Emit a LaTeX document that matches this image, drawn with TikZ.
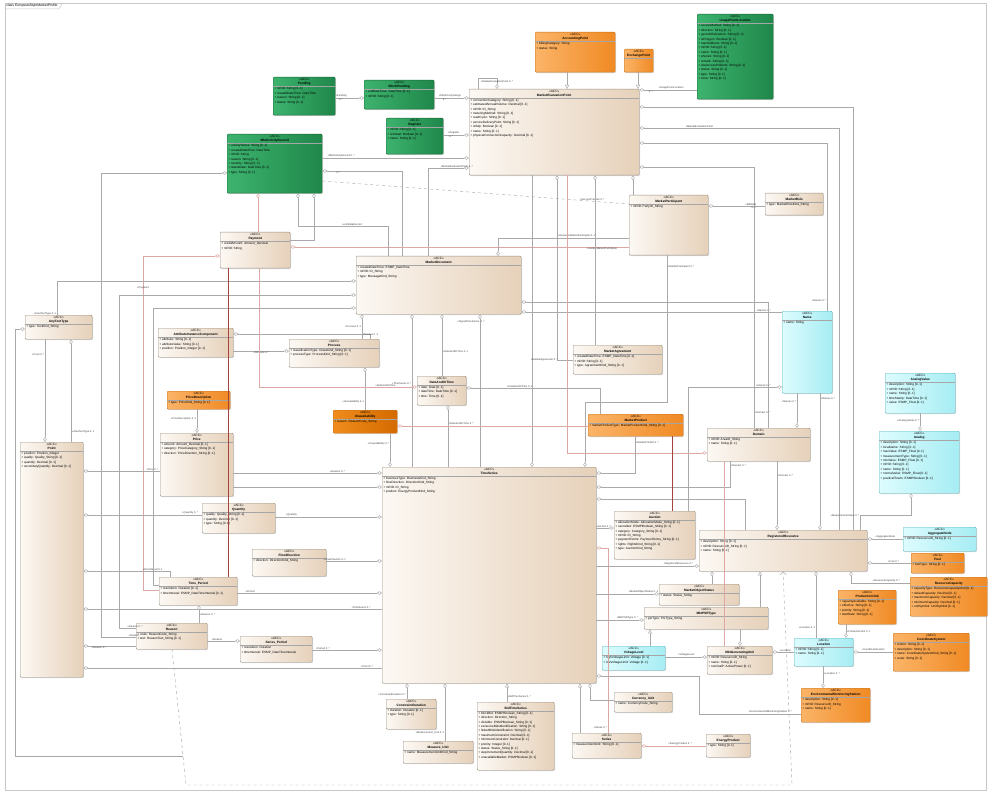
\documentclass[tikz,border=0pt]{standalone}
\usepackage{fontspec}
\setmainfont{Liberation Sans}
\usetikzlibrary{arrows.meta,shadows}

\definecolor{beigeL}{HTML}{FCF8F3}
\definecolor{beigeR}{HTML}{E6D1BA}
\definecolor{beigeB}{HTML}{9C9184}
\definecolor{greenL}{HTML}{3DB36E}
\definecolor{greenR}{HTML}{1F874A}
\definecolor{greenB}{HTML}{1B6A3A}
\definecolor{orangeL}{HTML}{FBB468}
\definecolor{orangeR}{HTML}{F08A24}
\definecolor{orangeB}{HTML}{C5741E}
\definecolor{darkoL}{HTML}{EF8C1C}
\definecolor{darkoR}{HTML}{D46A00}
\definecolor{cyanL}{HTML}{DDFCFE}
\definecolor{cyanR}{HTML}{A6EDF3}
\definecolor{cyanB}{HTML}{58B6C0}
\definecolor{lineG}{HTML}{A9A9A9}
\definecolor{linePk}{HTML}{DDA7A3}
\definecolor{lineRd}{HTML}{A5443E}

\tikzset{
  cls/.style={anchor=north west, rounded corners=1pt, inner sep=0pt, line width=0.4pt,
    drop shadow={shadow xshift=0.9pt, shadow yshift=-0.9pt, opacity=0.25}},
  beigebox/.style={left color=beigeL, right color=beigeR, draw=beigeB},
  greenbox/.style={left color=greenL, right color=greenR, draw=greenB},
  orangebox/.style={left color=orangeL, right color=orangeR, draw=orangeB},
  darkbox/.style={left color=darkoL, right color=darkoR, draw=orangeB},
  cyanbox/.style={left color=cyanL, right color=cyanR, draw=cyanB},
  clshead/.style={anchor=north, align=center, inner sep=1pt, font=\fontsize{3.2}{4}\selectfont},
  clsattr/.style={anchor=north west, align=left, inner sep=1.2pt, font=\fontsize{3.1}{4.4}\selectfont},
  clsrule/.style={draw=black!35, line width=0.3pt},
  con/.style={draw=lineG, line width=0.45pt},
  pk/.style={draw=linePk, line width=0.5pt},
  rd/.style={draw=lineRd, line width=0.6pt},
  dep/.style={draw=lineG, line width=0.45pt, dashed},
  ad/.style={-{Diamond[fill=white,length=5pt,width=3.4pt]}},
  sd/.style={{Diamond[fill=white,length=5pt,width=3.4pt]}-},
  tri/.style={-{Triangle[open,length=4pt,width=4pt]}},
  lbl/.style={inner sep=0.6pt, text=black!75, font=\fontsize{2.6}{3}\selectfont},
  frame/.style={draw=black!22, line width=0.5pt}
}

\newcommand{\umlclass}[8]{%
  \node[cls,#6,minimum width=#4pt,minimum height=#5pt] (#1) at (#2,#3) {};
  \node[clshead] (#1h) at (#1.north) {«ACC»\\\textbf{#7}};
  \draw[clsrule] (#1h.south -| #1.west) -- (#1h.south -| #1.east);
  \node[clsattr] (#1a) at (#1h.south -| #1.west) {#8};
}

\begin{document}
\begin{tikzpicture}[x=1pt,y=-1pt]
\useasboundingbox (0,0) rectangle (990,794);
\draw[frame] (5,3) rectangle (986,790);
\node[anchor=north west, inner sep=1.2pt, font=\fontsize{3.4}{4}\selectfont] (ftitle) at (5,3) {class EuropeanStyleMarketProfile};
\draw[frame] (ftitle.south west) -- (ftitle.south east) -- ([xshift=4pt]ftitle.north east);

\umlclass{pending}{273}{77}{62}{38}{greenbox}{Pending}{+ mRID: String [0..1]\\+ createdDateTime: DateTime\\+ reason: String [0..1]\\+ status: String [0..1]}
\umlclass{blockPend}{364}{80}{70}{29}{greenbox}{BlockPending}{+ endDateTime: DateTime [0..1]\\+ mRID: String [0..1]}
\umlclass{register}{386}{118}{57}{36}{greenbox}{Register}{+ mRID: String [0..1]\\+ isVirtual: Boolean [0..1]\\+ name: String [0..1]}
\umlclass{mktRec}{227}{134}{95}{59}{greenbox}{MktActivityRecord}{+ activityStatus: String [0..1]\\+ createdDateTime: DateTime\\+ mRID: String\\+ reason: String [0..1]\\+ severity: String [0..1]\\+ statusDate: DateTime [0..1]\\+ type: String [0..1]}
\umlclass{usageLoc}{697}{14}{76}{85}{greenbox}{UsagePointLocation}{+ accessMethod: String [0..1]\\+ direction: String [0..1]\\+ geoInfoReference: String [0..1]\\+ isPolygon: Boolean [0..1]\\+ mainAddress: String [0..1]\\+ mRID: String [0..1]\\+ name: String [0..1]\\+ phone1: String [0..1]\\+ remark: String [0..1]\\+ siteAccessProblem: String [0..1]\\+ status: String [0..1]\\+ type: String [0..1]\\+ zone: String [0..1]}
\umlclass{accPt}{535}{32}{80}{40}{orangebox}{AccountingPoint}{+ billingCategory: String\\+ status: String}
\umlclass{exchPt}{624}{49}{29}{23}{orangebox}{ExchangePoint}{}
\umlclass{mep}{469}{89}{170}{86}{beigebox}{MarketEvaluationPoint}{+ connectionCategory: String [0..1]\\+ estimatedAnnualVolume: Decimal [0..1]\\+ mRID: ID\_String\\+ meteringMethod: String [0..1]\\+ readCycle: String [0..1]\\+ serviceDeliveryPoint: String [0..1]\\+ isSdp: Boolean [0..1]\\+ name: String [0..1]\\+ physicalConnectionCapacity: Decimal [0..1]}
\umlclass{mktPart}{629}{195}{79}{60}{beigebox}{MarketParticipant}{+ mRID: PartyID\_String}
\umlclass{mktRole}{765}{193}{58}{22}{beigebox}{MarketRole}{+ type: MarketRoleKind\_String}
\umlclass{payment}{220}{232}{70}{36}{beigebox}{Payment}{+ creditAmount: Amount\_Decimal\\+ mRID: String}
\umlclass{mktDoc}{356}{256}{165}{58}{beigebox}{MarketDocument}{+ createdDateTime: ESMP\_DateTime\\+ mRID: ID\_String\\+ type: MessageKind\_String}
\umlclass{areaType}{25}{315}{67}{24}{beigebox}{AnyTextType}{+ type: TextKind\_String}
\umlclass{attrComp}{158}{328}{75}{29}{beigebox}{AttributeInstanceComponent}{+ attribute: String [0..1]\\+ attributeValue: String [0..1]\\+ position: Position\_Integer [0..1]}
\umlclass{process}{289}{339}{90}{28}{beigebox}{Process}{+ classificationType: ClassKind\_String [0..1]\\+ processType: ProcessKind\_String [0..1]}
\umlclass{mktAgree}{573}{345}{89}{29}{beigebox}{MarketAgreement}{+ createdDateTime: ESMP\_DateTime [0..1]\\+ mRID: String [0..1]\\+ type: AgreementKind\_String [0..1]}
\umlclass{dateTime}{417}{376}{49}{29}{beigebox}{DateAndOrTime}{+ date: Date [0..1]\\+ dateTime: DateTime [0..1]\\+ time: Time [0..1]}
\umlclass{priceDesc}{167}{391}{63}{18}{orangebox}{PriceDescription}{+ type: PriceKind\_String [0..1]}
\umlclass{unavail}{333}{410}{64}{23}{darkbox}{Unavailability}{+ reason: ReasonCode\_String}
\umlclass{mktProd}{588}{414}{95}{22}{orangebox}{MarketProduct}{+ marketProductType: MarketProductKind\_String [0..1]}
\umlclass{domain}{707}{428}{103}{33}{beigebox}{Domain}{+ mRID: AreaID\_String\\+ name: String [0..1]}
\umlclass{price}{160}{433}{73}{63}{beigebox}{Price}{+ amount: Amount\_Decimal [0..1]\\+ category: PriceCategory\_String [0..1]\\+ direction: PriceDirection\_String [0..1]}
\umlclass{pnt}{20}{442}{63}{235}{beigebox}{Point}{+ position: Position\_Integer\\+ quality: Quality\_String [0..1]\\+ quantity: Decimal [0..1]\\+ secondaryQuantity: Decimal [0..1]}
\umlclass{timeSeries}{382}{467}{214}{216}{beigebox}{TimeSeries}{+ businessType: BusinessKind\_String\\+ flowDirection: DirectionKind\_String\\+ mRID: ID\_String\\+ product: EnergyProductKind\_String}
\umlclass{quantity}{202}{503}{73}{30}{beigebox}{Quantity}{+ quality: Quality\_String [0..1]\\+ quantity: Decimal [0..1]\\+ type: String [0..1]}
\umlclass{auction}{614}{511}{81}{48}{beigebox}{Auction}{+ allocationMode: AllocationMode\_String [0..1]\\+ cancelled: ESMPBoolean\_String [0..1]\\+ category: Category\_String [0..1]\\+ mRID: ID\_String\\+ paymentTerms: PaymentTerms\_String [0..1]\\+ rights: RightsKind\_String [0..1]\\+ type: AuctionKind\_String}
\umlclass{regRes}{699}{530}{168}{41}{beigebox}{RegisteredResource}{+ description: String [0..1]\\+ mRID: ResourceID\_String [0..1]\\+ name: String [0..1]}
\umlclass{flowDir}{252}{549}{74}{27}{beigebox}{FlowDirection}{+ direction: DirectionKind\_String}
\umlclass{timePeriod}{159}{577}{78}{28}{beigebox}{Time\_Period}{+ resolution: Duration [0..1]\\+ timeInterval: ESMP\_DateTimeInterval [0..1]}
\umlclass{mktObjStatus}{659}{584}{80}{21}{beigebox}{MarketObjectStatus}{+ status: Status\_String}
\umlclass{psrType}{644}{607}{124}{22}{beigebox}{MktPSRType}{+ psrType: PsrType\_String}
\umlclass{reason}{136}{623}{71}{26}{beigebox}{Reason}{+ code: ReasonCode\_String\\+ text: ReasonText\_String [0..1]}
\umlclass{seriesPeriod}{240}{636}{72}{26}{beigebox}{Series\_Period}{+ resolution: Duration\\+ timeInterval: ESMP\_DateTimeInterval}
\umlclass{genUnit}{707}{646}{65}{28}{beigebox}{MktGeneratingUnit}{+ mRID: ResourceID\_String\\+ name: String [0..1]\\+ nominalP: ActivePower [0..1]}
\umlclass{voltLevel}{602}{646}{63}{24}{cyanbox}{VoltageLevel}{+ highVoltageLimit: Voltage [0..1]\\+ lowVoltageLimit: Voltage [0..1]}
\umlclass{currency}{614}{692}{58}{20}{beigebox}{Currency\_Unit}{+ name: CurrencyCode\_String}
\umlclass{constrDur}{386}{699}{50}{30}{beigebox}{ConstraintDuration}{+ duration: Duration [0..1]\\+ type: String [0..1]}
\umlclass{bidTS}{477}{702}{77}{68}{beigebox}{BidTimeSeries}{+ blockBid: ESMPBoolean\_String [0..1]\\+ direction: Direction\_String\\+ divisible: ESMPBoolean\_String [0..1]\\+ exclusiveBidsIdentification: String [0..1]\\+ linkedBidsIdentification: String [0..1]\\+ maximumConstraint: Decimal [0..1]\\+ minimumConstraint: Decimal [0..1]\\+ priority: Integer [0..1]\\+ status: Status\_String [0..1]\\+ stepIncrementQuantity: Decimal [0..1]\\+ unavailableMarket: ESMPBoolean [0..1]}
\umlclass{series}{572}{733}{69}{25}{beigebox}{Series}{+ measurementUnit: String [0..1]}
\umlclass{energyProd}{706}{734}{44}{23}{beigebox}{EnergyProduct}{+ type: String [0..1]}
\umlclass{measureUnit}{403}{741}{70}{22}{beigebox}{Measure\_Unit}{+ name: MeasurementUnitKind\_String}
\umlclass{nameCls}{782}{311}{50}{82}{cyanbox}{Name}{+ name: String}
\umlclass{analogVal}{885}{373}{70}{40}{cyanbox}{AnalogValue}{+ description: String [0..1]\\+ mRID: String [0..1]\\+ name: String [0..1]\\+ timeStamp: DateTime [0..1]\\+ value: ESMP\_Float [0..1]}
\umlclass{analog}{879}{431}{80}{62}{cyanbox}{Analog}{+ description: String [0..1]\\+ localName: String [0..1]\\+ maxValue: ESMP\_Float [0..1]\\+ measurementType: String [0..1]\\+ minValue: ESMP\_Float [0..1]\\+ mRID: String [0..1]\\+ name: String [0..1]\\+ normalValue: ESMP\_Float [0..1]\\+ positiveFlowIn: ESMPBoolean [0..1]}
\umlclass{aggNode}{903}{527}{73}{24}{cyanbox}{AggregateNode}{+ mRID: ResourceID\_String [0..1]}
\umlclass{fuel}{911}{553}{53}{20}{orangebox}{Fuel}{+ fuelType: String [0..1]}
\umlclass{resCap}{910}{577}{77}{39}{orangebox}{ResourceCapacity}{+ capacityType: ResourceCapacityKind [0..1]\\+ defaultCapacity: Decimal [0..1]\\+ maximumCapacity: Decimal [0..1]\\+ minimumCapacity: Decimal [0..1]\\+ unitSymbol: UnitSymbol [0..1]}
\umlclass{prodUnit}{838}{590}{58}{34}{orangebox}{ProductionUnit}{+ capacityAvailable: String [0..1]\\+ effective: String [0..1]\\+ priority: String [0..1]\\+ startDate: String [0..1]}
\umlclass{coordSys}{893}{633}{76}{38}{orangebox}{CoordinateSystem}{+ crsUrn: String [0..1]\\+ description: String [0..1]\\+ name: CoordinateSystemKind\_String [0..1]\\+ scale: String [0..1]}
\umlclass{location}{794}{638}{59}{28}{cyanbox}{Location}{+ mRID: String [0..1]\\+ name: String [0..1]}
\umlclass{envStation}{801}{688}{69}{34}{orangebox}{EnvironmentalMonitoringStation}{+ description: String [0..1]\\+ mRID: ResourceID\_String\\+ name: String [0..1]}

\coordinate (dj) at (183,756);

\draw[con,ad] (pending.east |- 0,98) -- (blockPend.west |- 0,98) node[lbl,pos=.2,above] (l1) {+Pending} node[lbl,pos=.2,below] (l1b) {0..*};
\draw[con,ad] (blockPend.east |- 0,98) -- (mep.west |- 0,98) node[lbl,pos=.45,above] (l2) {+MktActivityDesign} node[lbl,pos=.3,below] (l2b) {0..*};
\draw[con,ad] (register.east |- 0,135) -- (mep.west |- 0,135) node[lbl,pos=.4,above] (l3) {+Register} node[lbl,pos=.3,below] (l3b) {0..*};
\draw[con,ad] (mktRec.east |- 0,158) -- (mep.west |- 0,158) node[lbl,pos=.03,above right] (l4) {+MktActivityRecord 0..*};
\draw[con,ad] (mktDoc.north -| 428,0) |- (mep.west |- 0,168) node[lbl,pos=.85,above] (l5) {+MarketEvaluationPoint 0..*};
\draw[con,sd] (mktRec.east |- 0,171) -| (mktDoc.north -| 402,0) node[lbl,pos=.1,below] (l6) {0..*};
\draw[con,tri] (accPt.south -| 567,0) -- (mep.north -| 567,0);
\draw[con,tri] (exchPt.south -| 638,0) -- (mep.north -| 638,0);
\draw[con,ad] (usageLoc.west |- 0,90) -- (mep.east |- 0,90) node[lbl,pos=.45,above] (l9) {+UsagePointLocation} node[lbl,pos=.8,below] (l9b) {0..*};
\draw[con,ad] (mep.north -| 478,0) |- (497,78) -- (mep.north -| 497,0) node[lbl,pos=.5,above] (l10) {+MarketEvaluationPoint 0..*};
\draw[con,sd] (mep.east |- 0,107) -| (regRes.north -| 853,0);
\draw[con,sd] (mep.east |- 0,128) -| (regRes.north -| 839,0) node[lbl,pos=.15,above] (l12) {+MarketEvaluationPoint};
\draw[con,sd] (mep.east |- 0,143) -| (nameCls.north -| 827,0) node[lbl,pos=.97,left] (l13) {+Names 0..*};
\draw[con,ad] (nameCls.south -| 820,0) -- (regRes.north -| 820,0) node[lbl,pos=.04,right] (l13b) {+Names 0..*};
\draw[con,sd] (mep.east |- 0,167) -| (domain.north -| 754,0) node[lbl,pos=.97,right] (l14) {+Domain 0..*};
\draw[con,sd] (mktDoc.east |- 0,312) -- (nameCls.west |- 0,312) node[lbl,pos=.93,above] (l15) {+Names 0..*};
\draw[con,sd] (mktDoc.east |- 0,302) -| (domain.north -| 768,0);
\draw[con,sd] (nameCls.west |- 0,387) -| (auction.north -| 688,0) node[lbl,pos=.1,above] (l17) {+Names 0..*};
\draw[con,ad] (mktRole.west |- 0,206) -- (mktPart.east |- 0,206) node[lbl,pos=.25,above] (l18) {+MktRole} node[lbl,pos=.2,below] (l18b) {0..1};
\draw[con,sd] (timeSeries.north -| 585,0) |- (667,402) -- (mktPart.south -| 667,0) node[lbl,pos=.92,right] (l19) {+MarketParticipant 0..*};
\draw[dep] (mktRec.east |- 0,181) -- (mktPart.west |- 0,204) node[lbl,pos=.88,above] (l20) {+ServiceProvider 0..*};
\draw[pk,sd] (payment.east |- 0,247) -- (mktPart.west |- 0,247) node[lbl,pos=.92,below] (l21) {+SenderMarketParticipant};
\draw[con,sd] (mktDoc.north -| 498,0) |- (mktPart.west |- 0,238) node[lbl,pos=.8,above] (l22) {+ReceiverMarketParticipant 0..1};
\draw[con,ad] (mep.south -| 532,0) -- (timeSeries.north -| 532,0);
\draw[con,sd] (mep.south -| 557,0) |- (mktAgree.west |- 0,360) node[lbl,pos=.55,left] (l23b) {+MarketAgreement 0..*};
\draw[pk,ad] (mep.south -| 567,0) |- (domain.west |- 0,453);
\draw[con,sd] (mep.south -| 595,0) -- (mktAgree.north -| 595,0);
\draw[con,sd] (mep.south -| 633,0) -- (mktPart.north -| 633,0);
\draw[con,sd] (mktRec.west |- 0,173) -- (101,173) |- (reason.west |- 0,637) node[lbl,pos=.97,above] (l27) {+Reason};
\draw[pk,sd] (payment.west |- 0,256) -- (143,256) |- (timePeriod.west |- 0,590) node[lbl,pos=.05,above] (l28) {+Payment};
\draw[con,ad] (areaType.north -| 57,0) |- (mktDoc.west |- 0,281) node[lbl,pos=.02,left] (l30) {+AreaTextType 0..1};
\draw[con,ad] (areaType.south -| 45,0) -- (pnt.north -| 45,0) node[lbl,pos=.15,left] (l31) {+Point 0..*};
\draw[con,ad] (pnt.north -| 71,0) -- (areaType.south -| 71,0) node[lbl,pos=.1,right] (l32) {+AreaTextType 0..1};
\draw[con,sd] (areaType.west |- 0,329) -- (15,329) |- (dj);
\draw[dep,-{Straight Barb[length=3pt]}] (reason.south -| 172,0) -- (186,785) -- (792,785) -- (regRes.south -| 783,0);
\draw[con,sd] (pnt.east |- 0,471) -- (price.west |- 0,471) node[lbl,pos=.9,above] (l35a) {+Price 0..*};
\draw[con,sd] (pnt.east |- 0,515) -- (quantity.west |- 0,515) node[lbl,pos=.9,above] (l35b) {+Quantity 0..*};
\draw[con,sd] (pnt.east |- 0,571) -| (timePeriod.north -| 170,0) node[lbl,pos=.4,above] (l35c) {+timeInterval 0..1};
\draw[con,sd] (pnt.east |- 0,609) -- (timeSeries.west |- 0,609) node[lbl,pos=.93,above] (l35d) {+TimeSeries 0..*};
\draw[con,sd] (pnt.east |- 0,646) -- (reason.west |- 0,646) node[lbl,pos=.3,below] (l35e) {+Reason 0..*};
\draw[con,sd] (pnt.east |- 0,668) -- (timeSeries.west |- 0,668) node[lbl,pos=.95,above] (l35f) {+Point 0..*};
\draw[con,ad] (seriesPeriod.east |- 0,650) -- (timeSeries.west |- 0,650) node[lbl,pos=.15,above] (l36) {+Period 0..*};
\draw[con,ad] (flowDir.east |- 0,561) -- (timeSeries.west |- 0,561) node[lbl,pos=.15,above] (l37) {+FlowDirection 0..1};
\draw[con,ad] (quantity.east |- 0,517) -- (timeSeries.west |- 0,517) node[lbl,pos=.15,above] (l38) {+Quantity};
\draw[con,ad] (price.east |- 0,473) -- (timeSeries.west |- 0,473) node[lbl,pos=.7,above] (l39) {+Reason 0..*};
\draw[con,ad] (price.east |- 0,487) -- (timeSeries.west |- 0,487);
\draw[con,ad] (attrComp.east |- 0,351) -- (process.west |- 0,351) node[lbl,pos=.5,below] (l40) {+Attribute 0..*};
\draw[con,sd] (attrComp.east |- 0,334) -| (process.north -| 370,0) node[lbl,pos=.7,above] (l40b) {+Process 0..1};
\draw[con,ad] (unavail.north -| 365,0) -- (process.south -| 365,0) node[lbl,pos=.2,left] (l41) {+Unavailability 0..1};
\draw[con,ad] (unavail.south -| 390,0) -- (timeSeries.north -| 390,0) node[lbl,pos=.3,left] (l42) {+Unavailability 0..*};
\draw[con,sd] (mktDoc.south -| 412,0) -- (timeSeries.north -| 412,0) node[lbl,pos=.45,left] (l43a) {+TimeSeries 0..*};
\draw[con,sd] (mktDoc.south -| 480,0) -- (timeSeries.north -| 480,0) node[lbl,pos=.05,right] (l43b) {1..*} node[lbl,pos=.05,left] (l43bb) {+SignalTimeSeries};
\draw[con,sd] (mktDoc.south -| 362,0) -- (process.north -| 362,0) node[lbl,pos=.5,left] (l43c) {+Process 0..1};
\draw[con,sd] (mktDoc.south -| 442,0) -- (dateTime.north -| 442,0) node[lbl,pos=.6,right] (l43e) {+DateAndOrTime 0..1};
\draw[pk,ad] (payment.south -| 259,0) |- (dateTime.west |- 0,387) node[lbl,pos=.9,above] (l43f) {+DateAndOrTime};
\draw[con,ad] (timeSeries.north -| 448,0) -- (dateTime.south -| 448,0) node[lbl,pos=.7,right] (l43h) {+DateAndOrTime 0..*};
\draw[con,sd] (dateTime.east |- 0,388) -| (mktProd.north -| 600,0) node[lbl,pos=.2,above] (l43g) {+DateAndOrTime 0..1};
\draw[con,sd] (mktDoc.west |- 0,295) -- (119,295) |- (reason.west |- 0,628) node[lbl,pos=.97,above] (l44a) {+Reason 0..*};
\draw[con,sd] (mktDoc.west |- 0,308) -- (153,308) |- (timePeriod.west |- 0,585);
\draw[con,ad] (priceDesc.south -| 197,0) -- (price.north -| 197,0) node[lbl,pos=.4,left] (l47) {+PriceDescription 0..1};
\draw[con,ad] (timePeriod.east |- 0,593) -- (timeSeries.west |- 0,593) node[lbl,pos=.05,above right] (l51) {+Period};
\draw[con,ad] (reason.east |- 0,641) -- (seriesPeriod.west |- 0,641) node[lbl,pos=.3,above] (l52) {+Reason};
\draw[con,sd] (timePeriod.south -| 199,0) -- (reason.north -| 199,0) node[lbl,pos=.5,right] (l53) {+Reason 0..*};
\draw[con,sd] (timeSeries.east |- 0,473) -| (mktProd.south -| 635,0) node[lbl,pos=.92,right] (l56a) {+MarketProduct 0..*};
\draw[con,sd] (timeSeries.east |- 0,487) -| (domain.south -| 730,0) node[lbl,pos=.92,right] (l56b) {+Domain 0..*};
\draw[con,sd] (timeSeries.east |- 0,499) -| (regRes.north -| 745,0);
\draw[con,ad] (timeSeries.east |- 0,528) -- (auction.west |- 0,528) node[lbl,pos=.4,above] (l56d) {+Auction 0..*};
\draw[pk,sd] (timeSeries.east |- 0,548) -- (608,548) -- (series.north -| 608,0) node[lbl,pos=.97,left] (l56e) {+Series 0..*};
\draw[con,ad] (timeSeries.east |- 0,566) -- (regRes.west |- 0,566) node[lbl,pos=.8,above] (l56f) {+RegisteredResource 0..*};
\draw[con,ad] (timeSeries.east |- 0,594) -- (mktObjStatus.west |- 0,594) node[lbl,pos=.75,above] (l56g) {+MarketObjectStatus 0..1};
\draw[con,ad] (timeSeries.east |- 0,620) -- (psrType.west |- 0,620) node[lbl,pos=.65,above] (l56h) {+MktPSRType 0..*};
\draw[con,sd] (timeSeries.east |- 0,676) -- (699,676) |- (envStation.west |- 0,714) node[lbl,pos=.85,above] (l56i) {+EnvironmentalMonitoringStation 0..*};
\draw[con,ad] (voltLevel.east |- 0,657) -- (genUnit.west |- 0,657) node[lbl,pos=.5,above] (l57) {+VoltageLevel};
\draw[con,tri] (voltLevel.north -| 650,0) -- (psrType.south -| 650,0);
\draw[con,sd] (genUnit.north -| 740,0) -- (psrType.south -| 740,0);
\draw[con,ad] (mktObjStatus.north -| 712,0) -- (regRes.south -| 712,0);
\draw[pk,sd] (series.east |- 0,746) -- (energyProd.west |- 0,746) node[lbl,pos=.6,above] (l58) {+EnergyProduct 0..*};
\draw[con,tri] (series.north -| 580,0) -- (timeSeries.south -| 580,0);
\draw[con,tri] (bidTS.north -| 507,0) -- (timeSeries.south -| 507,0) node[lbl,pos=.3,right] (l59a) {+BidTimeSeries 0..*};
\draw[con,sd] (timeSeries.south -| 590,0) |- (currency.west |- 0,700);
\draw[con,sd] (timeSeries.south -| 407,0) -- (constrDur.north -| 407,0) node[lbl,pos=.7,left] (l59) {+ConstraintDuration 0..*};
\draw[con,sd] (timeSeries.south -| 445,0) -- (measureUnit.north -| 445,0) node[lbl,pos=.85,left] (l60) {+Measurement\_Unit 0..1};
\draw[con,ad] (analogVal.south -| 920,0) -- (analog.north -| 920,0) node[lbl,pos=.4,left] (l61) {+AnalogValues 0..*};
\draw[con,sd] (analog.south -| 911,0) |- (860,515) -- (regRes.north -| 860,0) node[lbl,pos=.05,left] (l62) {+MeasurementValue 0..*};
\draw[con,ad] (aggNode.west |- 0,539) -- (regRes.east |- 0,539) node[lbl,pos=.5,above] (l63) {+AggregateNode};
\draw[con,ad] (fuel.west |- 0,563) -- (regRes.east |- 0,563) node[lbl,pos=.4,above] (l64) {+Fuel 0..*};
\draw[con,sd] (regRes.south -| 851,0) |- (resCap.west |- 0,583) node[lbl,pos=.8,above] (l65) {+ResourceCapacity 0..*};
\draw[con,tri] (psrType.north -| 760,0) -- (regRes.south -| 760,0);
\draw[con,sd] (regRes.south -| 816,0) -- (location.north -| 816,0) node[lbl,pos=.85,left] (l66) {+Location 0..1};
\draw[con,ad] (prodUnit.south -| 846,0) -- (location.north -| 846,0) node[lbl,pos=.5,right] (l67) {+ProductionUnit 0..1};
\draw[con,ad] (coordSys.west |- 0,652) -- (location.east |- 0,652) node[lbl,pos=.5,above] (l68) {+CoordinateSystem};
\draw[con,ad] (location.west |- 0,652) -- (genUnit.east |- 0,652) node[lbl,pos=.4,above] (l69) {+Location};
\draw[con,ad] (location.south -| 823,0) -- (envStation.north -| 823,0) node[lbl,pos=.35,right] (l70) {+Location 0..*};
\draw[con,ad] (domain.south -| 777,0) -- (regRes.north -| 777,0) node[lbl,pos=.2,right] (l71) {+Domain 0..*};
\draw[con,ad] (nameCls.south -| 797,0) -- (domain.north -| 797,0) node[lbl,pos=.25,left] (l72) {+Names 0..*};
\draw[pk,ad] (mktProd.west |- 0,426) -- (unavail.east |- 0,426);
\draw[rd] (payment.south -| 228,0) -- (timePeriod.north -| 228,0);
\draw[rd] (mktProd.south -| 672,0) -- (auction.north -| 672,0);
\draw[pk] (domain.south -| 724,0) -- (genUnit.north -| 724,0);
\draw[pk,sd] (mktRec.south -| 258,0) -- (payment.north -| 258,0);
\draw[con,sd] (mktRec.south -| 298,0) -- (298,226) -| (mktDoc.north -| 388,0) node[lbl,pos=.3,above] (l77) {+unitDataRecord};
\draw[con,sd] (mktRec.south -| 314,0) |- (payment.east |- 0,240);
\end{tikzpicture}
\end{document}
